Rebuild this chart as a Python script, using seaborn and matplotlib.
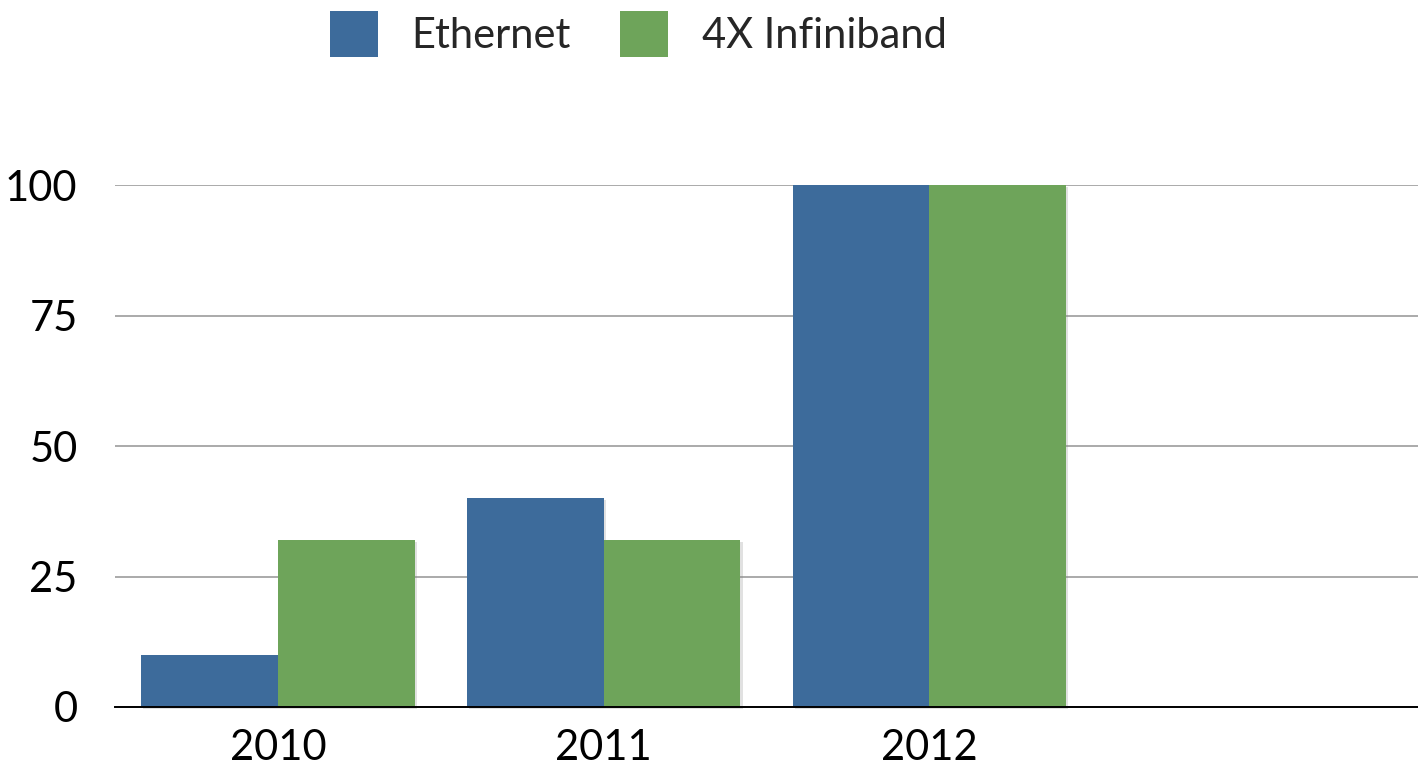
import matplotlib
matplotlib.use("Agg")
import matplotlib.pyplot as plt
import matplotlib.patheffects as pe
from matplotlib.patches import Patch
import seaborn as sns
import pandas as pd

years = ["2010", "2011", "2012"]
ethernet = [10, 40, 100]
infiniband = [32, 32, 100]
series_names = ["Ethernet", "4X Infiniband"]
yticks = [0, 25, 50, 75, 100]

df = pd.DataFrame({
    "year": years * 2,
    "value": ethernet + infiniband,
    "series": [series_names[0]] * len(years) + [series_names[1]] * len(years),
})

sns.set_theme(style="white")
plt.rcParams["font.family"] = ["Lato", "DejaVu Sans"]

fig = plt.figure(figsize=(14.18, 7.78), dpi=100)
ax = fig.add_axes([115 / 1418, 71 / 778, 1 - 115 / 1418, 522 / 778])

palette = {series_names[0]: "#3D6B9B", series_names[1]: "#6EA45A"}
sns.barplot(data=df, x="year", y="value", hue="series", order=years,
            hue_order=series_names, palette=palette, width=0.84,
            saturation=1, ax=ax, legend=False)

# soft drop shadow under each bar
for bar in ax.patches:
    bar.set_linewidth(0)
    bar.set_clip_on(False)
    bar.set_path_effects([pe.SimplePatchShadow(offset=(1.5, -1.5), shadow_rgbFace="#888888", alpha=0.25), pe.Normal()])

ax.set_xlim(-0.5, 3.5)
ax.set_ylim(0, 100)
ax.set_yticks(yticks)
ax.set_yticklabels([str(v) for v in yticks])
ax.yaxis.grid(True, color="#AAAAAA", linewidth=1.4)
ax.set_axisbelow(True)
for side in ["top", "right", "left"]:
    ax.spines[side].set_visible(False)
ax.spines["bottom"].set_color("black")
ax.spines["bottom"].set_linewidth(1.4)
ax.spines["bottom"].set_zorder(5)
ax.tick_params(axis="both", length=0, labelsize=30, colors="black")
ax.tick_params(axis="y", pad=27)
ax.tick_params(axis="x", pad=16)
ax.set_xlabel("")
ax.set_ylabel("")

handles = [Patch(facecolor=palette[s], edgecolor="none") for s in series_names]
fig.legend(handles, series_names, loc="upper center", bbox_to_anchor=(638 / 1418, 1.007),
           ncol=2, frameon=False, fontsize=30, handlelength=1.15, handleheight=1.3,
           handletextpad=0.8, columnspacing=1.2, borderaxespad=0.0)

fig.savefig("out.png", dpi=100, facecolor="white")
